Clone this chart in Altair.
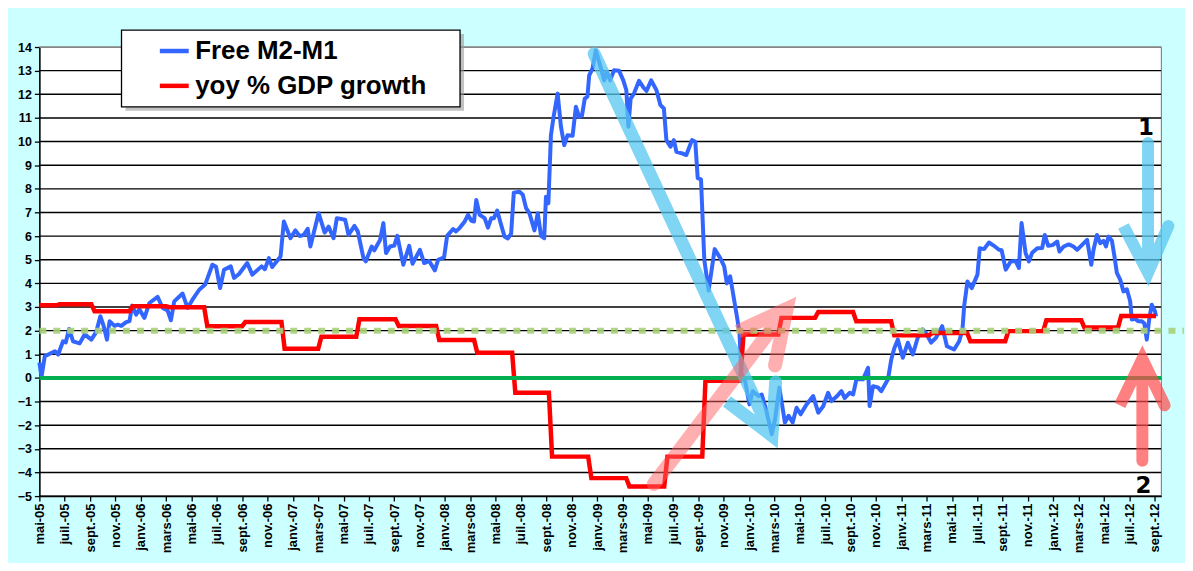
import altair as alt
import pandas as pd

# ---------------- data ----------------
# x unit: months since May 2005 (0 = mai-05, 88 = sept-12)
m2_month = [0.0,0.17,0.43,1.22,1.48,1.87,2.08,2.34,2.66,3.18,
            3.57,4.10,4.49,4.81,5.07,5.33,5.54,5.93,6.19,6.46,
            6.85,7.11,7.32,7.64,7.89,8.29,8.68,9.33,9.73,10.12,
            10.38,10.64,11.30,11.69,12.08,12.61,13.08,13.65,13.94,14.26,
            14.57,15.10,15.36,15.75,16.40,16.80,17.53,17.79,18.11,18.37,
            19.03,19.29,19.81,20.20,20.54,20.86,21.17,21.38,22.03,22.51,
            22.82,23.21,23.47,24.13,24.39,24.86,25.12,25.57,25.75,26.22,
            26.43,26.88,27.14,27.35,27.67,28.00,28.24,28.71,29.18,29.44,
            30.02,30.36,30.75,31.20,31.46,31.93,32.17,32.64,32.87,33.17,
            33.56,33.82,34.08,34.29,34.47,34.74,35.13,35.39,35.65,35.86,
            36.12,36.43,36.70,36.96,37.22,37.43,37.88,38.14,38.40,38.66,
            39.06,39.32,39.58,39.83,39.97,40.16,40.36,40.57,40.89,41.15,
            41.41,41.67,42.07,42.33,42.59,42.81,43.03,43.24,43.38,43.64,
            43.90,44.24,44.56,44.76,45.03,45.34,45.73,46.07,46.31,46.47,
            46.65,46.91,47.31,47.64,47.90,48.27,48.69,49.00,49.27,49.47,
            49.79,50.06,50.26,50.71,51.04,51.49,51.75,51.94,52.20,52.46,
            52.80,53.28,53.72,54.03,54.24,54.50,55.03,55.24,55.37,55.68,
            56.02,56.28,56.73,56.99,57.33,57.78,58.04,58.38,58.82,59.11,
            59.43,59.74,60.06,60.53,61.05,61.45,61.84,62.23,62.49,62.88,
            63.28,63.53,63.93,64.20,64.46,64.98,65.38,65.50,65.77,66.16,
            66.42,66.95,67.21,67.46,67.73,68.12,68.52,68.91,69.30,69.69,
            69.95,70.35,70.74,71.23,71.60,72.17,72.57,72.83,72.96,73.22,
            73.56,74.01,74.19,74.53,74.92,75.29,75.71,75.92,76.24,76.63,
            77.02,77.28,77.49,77.81,78.07,78.33,78.73,79.12,79.32,79.59,
            79.93,80.30,80.48,80.82,81.21,81.58,81.87,82.21,82.66,82.99,
            83.17,83.44,83.70,83.96,84.15,84.35,84.62,84.82,85.01,85.27,
            85.53,85.80,86.06,86.19,86.45,86.69,86.98,87.18,87.37,87.56,
            87.76,88.02,88.10]
m2_value = [0.65,0.05,0.92,1.13,0.99,1.55,1.5,2.07,1.55,1.46,
            1.84,1.62,1.95,2.61,2.2,1.62,2.4,2.2,2.25,2.2,
            2.36,2.4,3.06,2.68,2.9,2.54,3.17,3.43,2.96,2.85,
            2.44,3.24,3.57,2.96,3.31,3.73,3.95,4.79,4.7,3.8,
            4.58,4.72,4.23,4.4,4.86,4.37,4.72,4.6,5.07,4.69,
            5.14,6.62,5.91,6.24,6.0,6.05,6.31,5.56,6.97,6.15,
            6.4,5.91,6.76,6.69,6.05,6.43,6.2,5.07,4.93,5.56,
            5.4,5.84,6.55,5.28,5.56,5.6,6.01,4.79,5.59,4.83,
            5.42,4.86,4.95,4.55,5.0,5.1,6.01,6.3,6.2,6.35,
            6.62,6.9,6.65,6.62,7.53,6.9,6.76,6.36,6.76,6.76,
            7.08,6.48,5.98,5.9,6.1,7.84,7.88,7.75,7.18,6.97,
            6.24,6.97,6.01,5.91,7.67,7.39,10.27,11.05,12.03,10.63,
            9.85,10.27,10.25,11.47,11.05,11.1,11.82,11.9,12.8,13.09,
            13.86,13.23,12.59,12.95,12.59,13.02,13.0,12.59,12.17,10.63,
            11.82,12.03,12.57,12.3,12.14,12.59,12.17,11.54,11.4,10.06,
            9.78,10.06,9.57,9.5,9.43,10.06,9.99,8.45,8.4,5.0,
            3.7,5.45,5.07,4.72,4.0,4.3,2.61,1.91,0.22,-0.13,
            -1.12,-0.56,-0.77,-0.7,-1.33,-2.38,-1.75,-0.41,-1.89,-1.6,
            -1.89,-1.26,-1.54,-1.12,-0.77,-1.47,-1.2,-0.63,-0.98,-0.8,
            -0.56,-0.85,-0.63,-0.7,-0.06,-0.06,0.43,-1.19,-0.35,-0.4,
            -0.56,-0.06,0.78,1.27,1.62,0.85,1.49,0.99,1.7,2.05,
            1.9,1.49,1.7,2.19,1.34,1.2,1.55,2.05,3.03,4.08,
            3.8,4.37,5.49,5.45,5.73,5.6,5.42,5.4,4.58,4.93,
            4.95,4.65,6.55,5.28,4.93,5.3,5.49,5.5,6.05,5.59,
            5.62,5.77,5.35,5.56,5.65,5.56,5.42,5.6,5.84,4.79,
            5.42,6.05,5.7,5.8,5.56,5.98,5.8,5.14,4.44,4.16,
            3.66,3.75,3.24,2.47,2.5,2.4,2.4,2.3,1.62,2.47,
            3.1,2.82,2.6]

# yoy % GDP growth: quarterly levels and the months at which they change
gdp_step_month = [1.35,4.1,7.1,10.0,13.0,16.0,19.1,22.0,25.0,28.1,
                  31.3,34.3,37.3,40.2,43.3,46.3,49.3,52.3,55.3,58.3,
                  61.2,64.2,67.2,70.2,73.2,76.2,79.2,82.2,85.1]
gdp_level = [3.07,3.12,2.82,3.03,2.99,2.19,2.37,1.23,1.74,2.48,
             2.2,1.6,1.06,-0.63,-3.33,-4.24,-4.59,-3.33,-0.12,1.84,
             2.54,2.79,2.4,1.8,1.9,1.55,1.98,2.44,2.13,2.62]
gdp_end_month = 88.1

series_names = ["Free M2-M1", "yoy % GDP growth"]
series_colors = ["#3366FF", "#FF0000"]

# x tick labels, every 2 months
tick_month = list(range(0, 89, 2))
month_abbr = ["mai", "juil.", "sept.", "nov.", "janv.", "mars"]
tick_labels = [f"{month_abbr[i % 6]}-{5 + (4 + t) // 12:02d}" for i, t in enumerate(tick_month)]
y_ticks = list(range(-5, 15))

# reference lines
zero_line = [0]
target_line = [2]
target_span = [0, 90.3]

# annotation arrows (path: tail -> tip -> barb -> tip -> barb)
arrow_big_m = [43.77, 57.8, 54.24, 57.8, 58.09]
arrow_big_v = [13.72, -2.45, -0.99, -2.45, -0.17]
arrow_pink_m = [48.48, 58.96, 55.1, 58.96, 58.04]
arrow_pink_v = [-4.49, 2.92, 1.96, 2.92, 0.53]
arrow_1_m = [87.47, 87.47, 85.53, 87.47, 89.07]
arrow_1_v = [9.94, 4.45, 6.43, 4.45, 6.43]
arrow_2_m = [87.02, 87.02, 85.25, 87.02, 88.78]
arrow_2_v = [-3.51, 0.8, -1.16, 0.8, -1.16]
note_text = ["1", "2"]
note_m = [87.3, 87.1]
note_v = [10.56, -4.57]

# ---------------- build tables ----------------
m2_df = pd.DataFrame({"m": m2_month, "v": m2_value, "series": series_names[0],
                      "i": range(len(m2_month))})
gm, gv = [0.0], [gdp_level[0]]
for k, s in enumerate(gdp_step_month):
    gm += [s, s + 0.25]
    gv += [gdp_level[k], gdp_level[k + 1]]
gm.append(gdp_end_month)
gv.append(gdp_level[-1])
gdp_df = pd.DataFrame({"m": gm, "v": gv, "series": series_names[1], "i": range(len(gm))})

FONT = "Liberation Sans"

x_scale = alt.Scale(domain=[0, 88.5], nice=False, zero=False)
y_scale = alt.Scale(domain=[-5, 14], nice=False, zero=False)

label_array = "[" + ",".join(f"'{l}'" for l in tick_labels) + "]"
x_axis = alt.Axis(values=tick_month, labelExpr=f"{label_array}[round(datum.value/2)]",
                  labelAngle=270, labelFont=FONT, labelFontWeight="bold", labelFontSize=13,
                  labelColor="black", tickColor="black", tickSize=5, tickWidth=1.3,
                  domainColor="black", domainWidth=1.5, grid=False, title=None,
                  labelPadding=2, labelOverlap=False, labelBound=False, labelFlush=False,
                  labelSeparation=0)
y_axis = alt.Axis(values=y_ticks, labelFont=FONT, labelFontWeight="bold", labelFontSize=12.5,
                  labelColor="black", tickColor="black", tickSize=5, tickWidth=1.3,
                  domainColor="black", domainWidth=1.5, title=None, labelPadding=3,
                  labelOverlap=False, labelFlush=False, labelSeparation=0, grid=False)

X = alt.X("m:Q", scale=x_scale, axis=x_axis)
Y = alt.Y("v:Q", scale=y_scale, axis=y_axis)

legend = alt.Legend(orient="none", legendX=118.5, legendY=-13, title=None,
                    symbolType="stroke", symbolSize=841, symbolStrokeWidth=4.5,
                    symbolOffset=0, labelFontSize=26, labelFont=FONT,
                    labelFontWeight="bold", labelColor="black", labelOffset=4,
                    padding=0, rowPadding=5, labelLimit=500)

color = alt.Color("series:N", scale=alt.Scale(domain=series_names, range=series_colors),
                  legend=legend)

# horizontal gridlines
grid_df = pd.DataFrame({"v": y_ticks})
grid = alt.Chart(grid_df).mark_rule(strokeWidth=1.4).encode(
    y=Y,
    color=alt.condition("datum.v == 14", alt.value("#888888"), alt.value("#000000")))

# legend frame (with a soft drop shadow), placed in pixels of the plot area
frame_shadow = alt.Chart(pd.DataFrame({"k": [0]})).mark_rect(
    fill="#9a9a9a", opacity=0.6).encode(
    x=alt.value(86.5), x2=alt.value(426.5), y=alt.value(-13), y2=alt.value(64))
frame = alt.Chart(pd.DataFrame({"k": [0]})).mark_rect(
    fill="white", stroke="black", strokeWidth=1.3).encode(
    x=alt.value(82.5), x2=alt.value(422.5), y=alt.value(-17), y2=alt.value(60))

blue = alt.Chart(m2_df).mark_line(strokeWidth=4, strokeJoin="round").encode(
    x=X, y=Y, color=color, order="i:Q")
red = alt.Chart(gdp_df).mark_line(strokeWidth=4.5, strokeJoin="miter").encode(
    x=X, y=Y, color=color, order="i:Q")

zero = alt.Chart(pd.DataFrame({"v": zero_line})).mark_rule(
    color="#00B050", strokeWidth=4).encode(y=Y)
target = alt.Chart(pd.DataFrame({"v": target_line, "a": [target_span[0]], "b": [target_span[1]]})).mark_rule(
    color="#A9D07A", opacity=0.9, strokeWidth=6, strokeDash=[7, 7]).encode(
    x=alt.X("a:Q", scale=x_scale, axis=x_axis), x2="b:Q", y=Y)


def arrow(ms, vs, col, op, w):
    df = pd.DataFrame({"m": ms, "v": vs, "i": range(len(ms))})
    return alt.Chart(df).mark_line(color=col, opacity=op, strokeWidth=w,
                                   strokeCap="round", strokeJoin="miter").encode(
        x=X, y=Y, order="i:Q")


arrows = [
    arrow(arrow_big_m, arrow_big_v, "#55C5F0", 0.75, 13),
    arrow(arrow_pink_m, arrow_pink_v, "#FF5F5F", 0.5, 14),
    arrow(arrow_1_m, arrow_1_v, "#55C5F0", 0.75, 12),
    arrow(arrow_2_m, arrow_2_v, "#FF4A4A", 0.7, 12),
]

notes = alt.Chart(pd.DataFrame({"m": note_m, "v": note_v, "t": note_text})).mark_text(
    font="DejaVu Sans", fontWeight="bold", fontSize=23, color="black",
    baseline="middle", align="center").encode(x=X, y=Y, text="t:N")

chart = alt.layer(grid, blue, red, zero, target, *arrows, notes, frame_shadow, frame).properties(
    width=1126.6, height=451, background="#CCFFFF",
    padding={"left": 31.5, "top": 38, "right": 24, "bottom": 66},
    autosize=alt.AutoSizeParams(type="none"),
).configure_view(fill="white", stroke="#888888", strokeWidth=1.2
).configure_axis(labelOverlap=False)

chart.save("out.html", embed_options={"renderer": "svg", "actions": False})
